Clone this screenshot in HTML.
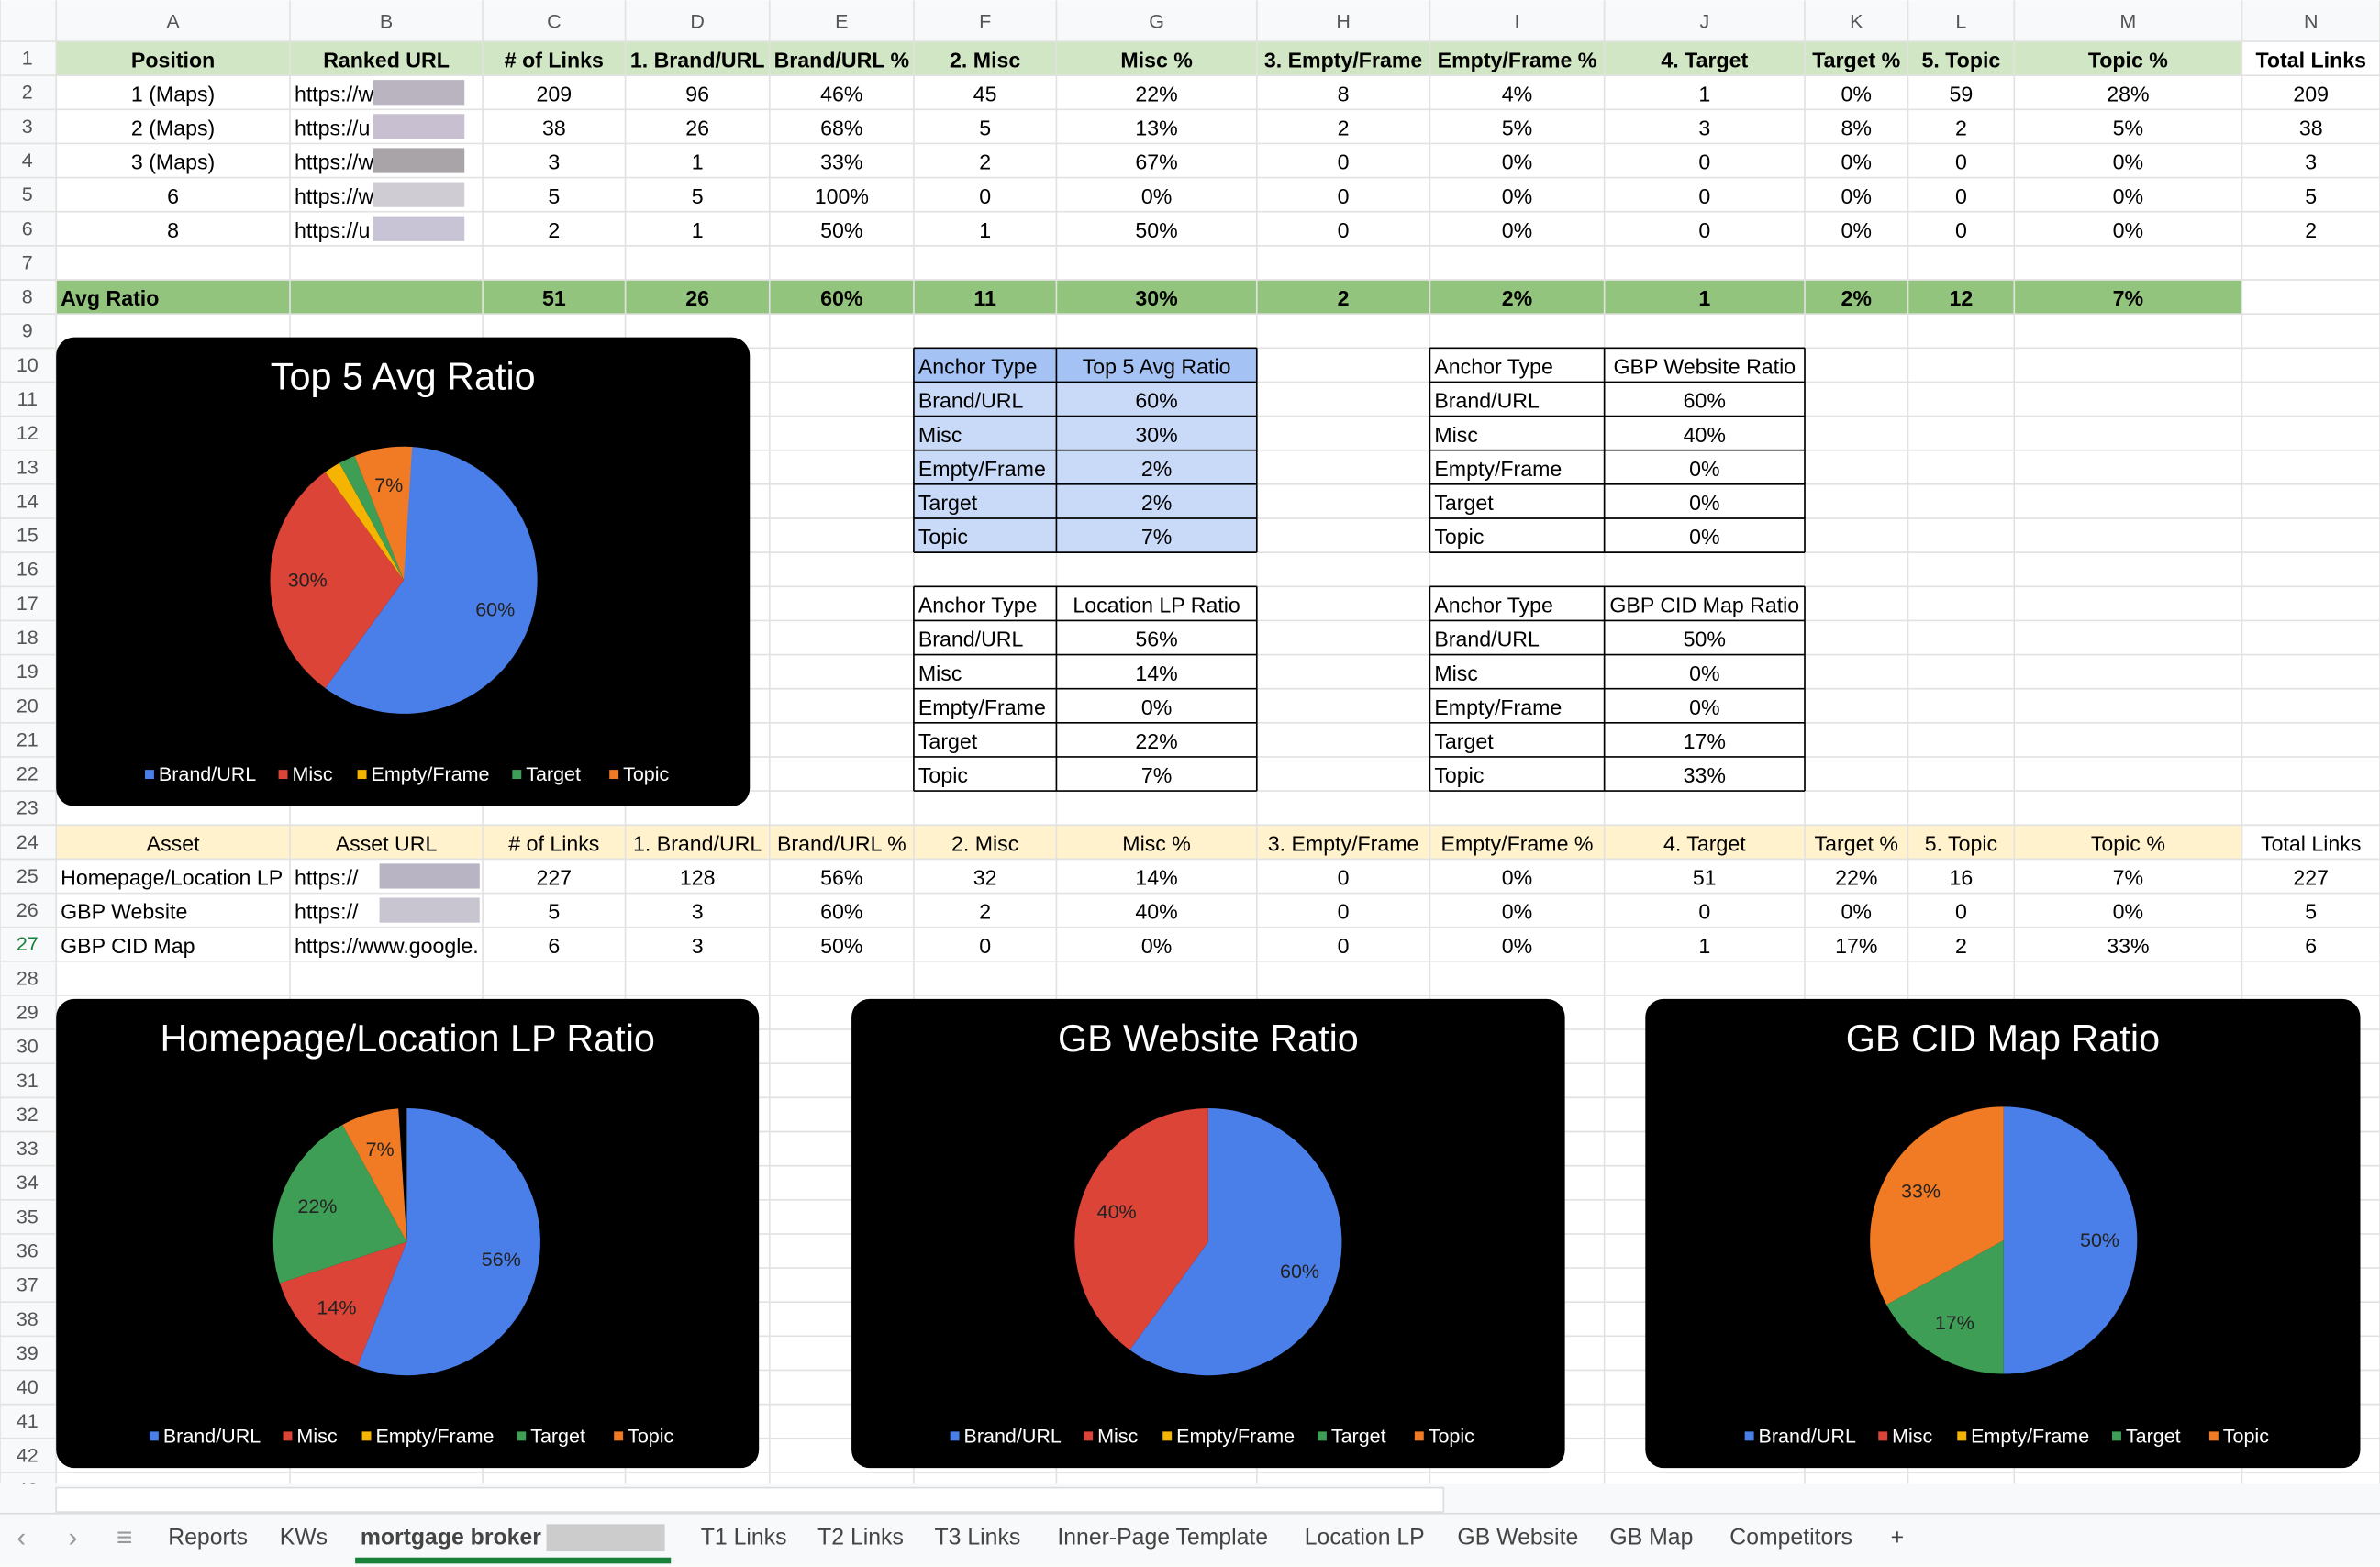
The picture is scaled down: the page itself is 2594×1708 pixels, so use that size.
<!DOCTYPE html>
<html><head><meta charset="utf-8">
<style>
html,body{margin:0;padding:0;background:#fff;}
svg{display:block;}
text{font-family:"Liberation Sans",Arial,sans-serif;}
</style></head>
<body>
<svg id="s" width="2594" height="1708" viewBox="0 0 1568 1032" xmlns="http://www.w3.org/2000/svg"></svg>
<script>
const S=document.getElementById('s');let o='';
const cols=[0,37,191,318,412,507,602,696,828,942,1057,1189,1257,1327,1477,1568];
const RH=22.45,R0=27;
const ry=r=>R0+(r-1)*RH;
function rect(x,y,w,h,f,st,sw){o+=`<rect x="${x}" y="${y}" width="${w}" height="${h}" fill="${f}"${st?` stroke="${st}" stroke-width="${sw||1}"`:''}/>`;}
function txt(x,y,t,opt={}){o+=`<text x="${x}" y="${y}" font-size="${opt.fs||14}" fill="${opt.c||'#000'}" text-anchor="${opt.a||'middle'}" font-weight="${opt.b?'bold':'normal'}" dominant-baseline="central">${t}</text>`;}
// header bg
rect(0,0,1568,R0,'#f8f9fa');
rect(0,0,37,977,'#f8f9fa');
// row fills
rect(37,ry(1),1440,RH,'#d0e6c4');
rect(37,ry(8),1440,RH,'#93c47d');
rect(37,ry(24),1440,RH,'#fff2cc');
// grid
for(let i=0;i<cols.length;i++){o+=`<line x1="${cols[i]}" y1="0" x2="${cols[i]}" y2="977" stroke="#e2e2e2"/>`;}
for(let r=0;r<=43;r++){o+=`<line x1="0" y1="${ry(r+1)}" x2="1568" y2="${ry(r+1)}" stroke="#e2e2e2"/>`;}
const L='ABCDEFGHIJKLMN';
for(let i=0;i<14;i++)txt((cols[i+1]+cols[i+2])/2,14,L[i],{fs:13,c:'#555'});
for(let r=1;r<=43;r++)txt(18,ry(r)+RH/2,r,{fs:13,c:r==27?'#188038':'#555'});
function row(r,vals,opt={}){vals.forEach((v,i)=>{if(v===null)return;let cx=(cols[i+1]+cols[i+2])/2;let a='middle',x=cx;if(opt.left&&opt.left.includes(i)){a='start';x=cols[i+1]+3;}txt(x,ry(r)+RH/2+1,v,{a,b:opt.b});});}
const hdr=['Position','Ranked URL','# of Links','1. Brand/URL','Brand/URL %','2. Misc','Misc %','3. Empty/Frame','Empty/Frame %','4. Target','Target %','5. Topic','Topic %','Total Links'];
row(1,hdr,{b:true});
const d=[['1 (Maps)','https://w          h/','209','96','46%','45','22%','8','4%','1','0%','59','28%','209'],
['2 (Maps)','https://u          es','38','26','68%','5','13%','2','5%','3','8%','2','5%','38'],
['3 (Maps)','https://w          no','3','1','33%','2','67%','0','0%','0','0%','0','0%','3'],
['6','https://w          le','5','5','100%','0','0%','0','0%','0','0%','0','0%','5'],
['8','https://u          es','2','1','50%','1','50%','0','0%','0','0%','0','0%','2']];
d.forEach((v,i)=>row(i+2,v,{left:[1]}));
// blurred blocks
[[2,'#b9b4c0'],[3,'#c8c0d0'],[4,'#a9a4a8'],[5,'#d0ccd4'],[6,'#c8c4d6']].forEach(([r,c])=>rect(246,ry(r)+3,60,RH-6,c));
row(8,['Avg Ratio',null,'51','26','60%','11','30%','2','2%','1','2%','12','7%',null],{b:true,left:[0]});
const h2=['Asset','Asset URL','# of Links','1. Brand/URL','Brand/URL %','2. Misc','Misc %','3. Empty/Frame','Empty/Frame %','4. Target','Target %','5. Topic','Topic %','Total Links'];
row(24,h2,{b:false});
row(25,['Homepage/Location LP','https://','227','128','56%','32','14%','0','0%','51','22%','16','7%','227'],{left:[0,1]});
row(26,['GBP Website','https://','5','3','60%','2','40%','0','0%','0','0%','0','0%','5'],{left:[0,1]});
row(27,['GBP CID Map','https://www.google.','6','3','50%','0','0%','0','0%','1','17%','2','33%','6'],{left:[0,1]});
rect(250,ry(25)+3,66,RH-6,'#b8b4c4');rect(250,ry(26)+3,66,RH-6,'#c8c4d0');
// small tables
function tbl(x1,x2,x3,r0,h,rows,fill,hf){for(let i=0;i<6;i++){const y=ry(r0+i);if(fill){rect(x1,y,x3-x1,RH,i==0?hf:fill);}
let rr=i==0?h:rows[i-1];txt(x1+3,y+RH/2+1,rr[0],{a:'start',b:false});txt((x2+x3)/2,y+RH/2+1,rr[1]);}
for(let i=0;i<=6;i++)o+=`<line x1="${x1}" y1="${ry(r0+i)}" x2="${x3}" y2="${ry(r0+i)}" stroke="#000"/>`;
[x1,x2,x3].forEach(x=>o+=`<line x1="${x}" y1="${ry(r0)}" x2="${x}" y2="${ry(r0+6)}" stroke="#000"/>`);}
const at=['Brand/URL','Misc','Empty/Frame','Target','Topic'];
const z=(a)=>at.map((t,i)=>[t,a[i]]);
tbl(602,696,828,10,['Anchor Type','Top 5 Avg Ratio'],z(['60%','30%','2%','2%','7%']),'#c9daf8','#a4c2f4');
tbl(942,1057,1189,10,['Anchor Type','GBP Website Ratio'],z(['60%','40%','0%','0%','0%']));
tbl(602,696,828,17,['Anchor Type','Location LP Ratio'],z(['56%','14%','0%','22%','7%']));
tbl(942,1057,1189,17,['Anchor Type','GBP CID Map Ratio'],z(['50%','0%','0%','17%','33%']));
// charts
const PC=['#4a7ee8','#db4437','#f4b400','#3f9e55','#f07b24'];
function chart(x,y,w,h,title,cx,cy,r,p){rect(x,y,w,h,'#000');o=o.replace(/<rect([^>]*)fill="#000"\/>$/,`<rect$1fill="#000" rx="12"/>`);
txt(x+w/2,y+26,title,{fs:25,c:'#fff'});
let a=-Math.PI/2;p.forEach((v,i)=>{if(!v)return;const a2=a+v/100*2*Math.PI;const x1=cx+r*Math.cos(a),y1=cy+r*Math.sin(a),x2=cx+r*Math.cos(a2),y2=cy+r*Math.sin(a2);
o+=`<path d="M${cx},${cy}L${x1},${y1}A${r},${r} 0 ${v>50?1:0} 1 ${x2},${y2}Z" fill="${PC[i]}"/>`;
if(v>=5){const m=(a+a2)/2;txt(cx+0.72*r*Math.cos(m),cy+0.72*r*Math.sin(m),v+'%',{fs:13,c:'#222'});}a=a2;});
let lx=x+w/2-170;const ly=y+h-21;at.forEach((t,i)=>{rect(lx,ly-3,6,6,PC[i]);o+=`<text x="${lx+9}" y="${ly}" font-size="13" fill="#fff" dominant-baseline="central">${t}</text>`;lx+=[88,52,102,64,50][i];});}
chart(37,222,457,309,'Top 5 Avg Ratio',266,382,88,[60,30,2,2,7]);
chart(37,658,463,309,'Homepage/Location LP Ratio',268,818,88,[56,14,0,22,7]);
chart(561,658,470,309,'GB Website Ratio',796,818,88,[60,40,0,0,0]);
chart(1084,658,471,309,'GB CID Map Ratio',1320,817,88,[50,0,0,17,33]);
// scrollbar & tabs
rect(0,977,1568,55,'#f8f9fa');rect(37,980,914,16,'#fff','#ddd');
o+=`<line x1="0" y1="997" x2="1568" y2="997" stroke="#ddd"/>`;
txt(14,1013,'‹',{fs:18,c:'#999'});txt(48,1013,'›',{fs:18,c:'#999'});txt(82,1013,'≡',{fs:18,c:'#999'});
const tabs=[['Reports',137],['KWs',200],['mortgage broker',297],['T1 Links',490],['T2 Links',567],['T3 Links',644],['Inner-Page Template',766],['Location LP',899],['GB Website',1000],['GB Map',1088],['Competitors',1180],['+',1250]];
tabs.forEach(([t,x])=>txt(x,1013,t,{fs:15,c:'#444',b:t.startsWith('mortgage')}));
rect(360,1004,78,18,'#ccc');rect(234,1026,208,4,'#188038');
S.innerHTML=o;
</script>
</body></html>
